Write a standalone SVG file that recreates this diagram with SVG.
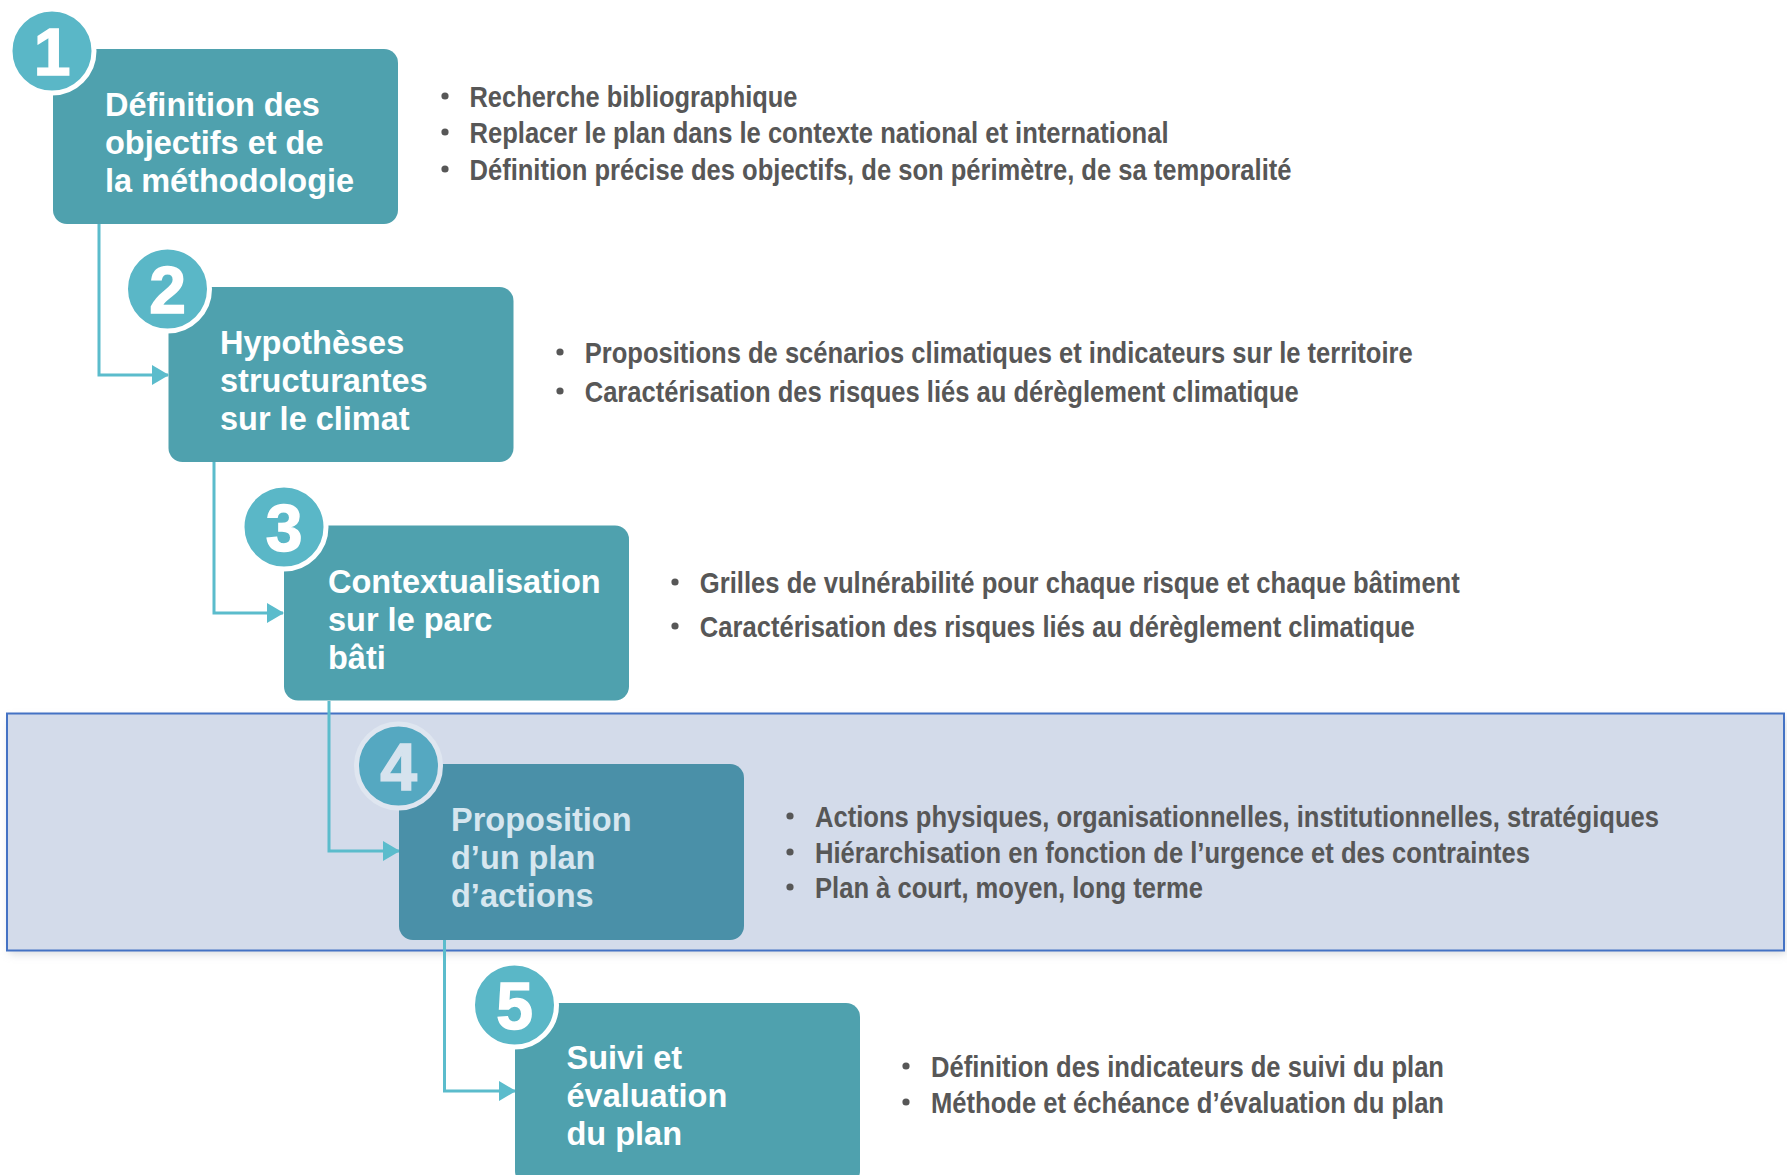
<svg xmlns="http://www.w3.org/2000/svg" width="1787" height="1175" viewBox="0 0 1787 1175">
<defs>
<style>
.box{fill:#4fa1ae}
.box4{fill:#4a90a8}
.circ{fill:#5ab7c7;stroke:#ffffff;stroke-width:5}
.circ4{fill:#55a8c1;stroke:#dfe6f0;stroke-width:5}
.num{font-family:"Liberation Sans",Arial,sans-serif;font-weight:bold;font-size:66px;fill:#ffffff;stroke:#ffffff;stroke-width:1.5;text-anchor:middle}
.num4{fill:#d6e3ee;stroke:#d6e3ee}
.title{font-family:"Liberation Sans",Arial,sans-serif;font-weight:bold;font-size:32.5px;fill:#ffffff}
.title4{fill:#d6e6ef}
.bul{font-family:"Liberation Sans Narrow","Liberation Sans",Arial,sans-serif;font-weight:bold;font-size:30px;fill:#575757}
.dot{fill:#575757}
.conn{fill:none;stroke:#5bbccc;stroke-width:3}
</style>
<marker id="arr" viewBox="0 0 17 20" refX="16" refY="10" markerWidth="17" markerHeight="20" orient="auto" markerUnits="userSpaceOnUse">
<path d="M0,0 L17,10 L0,20 z" fill="#5bbccc"/>
</marker>
<filter id="sh" x="-5%" y="-20%" width="110%" height="150%">
<feGaussianBlur stdDeviation="4"/>
</filter>
</defs>
<rect width="1787" height="1175" fill="#ffffff"/>

<g id="highlight">
<rect x="9" y="718" width="1777" height="236" fill="#bfc3c9" filter="url(#sh)" opacity="0.6"/>
<rect x="7" y="713.5" width="1777" height="237" fill="#d3dbea" stroke="#4472c4" stroke-width="2"/>
</g>

<g id="connectors">
<path class="conn" d="M99,224 V375 H168" marker-end="url(#arr)"/>
<path class="conn" d="M214,462 V613 H283" marker-end="url(#arr)"/>
<path class="conn" d="M329,701 V851 H399" marker-end="url(#arr)"/>
<path class="conn" d="M444.5,940 V1091 H515" marker-end="url(#arr)"/>
</g>

<g id="step1">
<rect class="box" x="53" y="49" width="345" height="175" rx="14"/>
<circle class="circ" cx="52" cy="51" r="42"/>
<text class="num" x="52" y="74.5">1</text>
<text class="title" x="105" y="116">Définition des</text>
<text class="title" x="105" y="154">objectifs et de</text>
<text class="title" x="105" y="192">la méthodologie</text>
<circle class="dot" cx="445" cy="96" r="3.6"/>
<text class="bul" x="469.5" y="106.5" textLength="328" lengthAdjust="spacingAndGlyphs">Recherche bibliographique</text>
<circle class="dot" cx="445" cy="132" r="3.6"/>
<text class="bul" x="469.5" y="142.5" textLength="699" lengthAdjust="spacingAndGlyphs">Replacer le plan dans le contexte national et international</text>
<circle class="dot" cx="445" cy="169" r="3.6"/>
<text class="bul" x="469.5" y="179.5" textLength="822" lengthAdjust="spacingAndGlyphs">Définition précise des objectifs, de son périmètre, de sa temporalité</text>
</g>

<g id="step2">
<rect class="box" x="168.5" y="287" width="345" height="175" rx="14"/>
<circle class="circ" cx="167.5" cy="289" r="42"/>
<text class="num" x="167.5" y="312.5">2</text>
<text class="title" x="220" y="354">Hypothèses</text>
<text class="title" x="220" y="392">structurantes</text>
<text class="title" x="220" y="430">sur le climat</text>
<circle class="dot" cx="560" cy="352" r="3.6"/>
<text class="bul" x="584.7" y="362.5" textLength="828" lengthAdjust="spacingAndGlyphs">Propositions de scénarios climatiques et indicateurs sur le territoire</text>
<circle class="dot" cx="560" cy="391" r="3.6"/>
<text class="bul" x="584.7" y="401.5" textLength="714" lengthAdjust="spacingAndGlyphs">Caractérisation des risques liés au dérèglement climatique</text>
</g>

<g id="step3">
<rect class="box" x="284" y="525.5" width="345" height="175" rx="14"/>
<circle class="circ" cx="284" cy="527" r="42"/>
<text class="num" x="284" y="550.5">3</text>
<text class="title" x="328" y="593">Contextualisation</text>
<text class="title" x="328" y="631">sur le parc</text>
<text class="title" x="328" y="669">bâti</text>
<circle class="dot" cx="675" cy="582" r="3.6"/>
<text class="bul" x="699.8" y="592.5" textLength="760" lengthAdjust="spacingAndGlyphs">Grilles de vulnérabilité pour chaque risque et chaque bâtiment</text>
<circle class="dot" cx="675" cy="626" r="3.6"/>
<text class="bul" x="699.8" y="636.5" textLength="715" lengthAdjust="spacingAndGlyphs">Caractérisation des risques liés au dérèglement climatique</text>
</g>

<g id="step4">
<rect class="box4" x="399" y="764" width="345" height="176" rx="14"/>
<circle class="circ4" cx="398.5" cy="766" r="42"/>
<text class="num num4" x="398.5" y="789.5">4</text>
<text class="title title4" x="451" y="831">Proposition</text>
<text class="title title4" x="451" y="869">d’un plan</text>
<text class="title title4" x="451" y="907">d’actions</text>
<circle class="dot" cx="790" cy="816" r="3.6"/>
<text class="bul" x="815" y="826.5" textLength="844" lengthAdjust="spacingAndGlyphs">Actions physiques, organisationnelles, institutionnelles, stratégiques</text>
<circle class="dot" cx="790" cy="852" r="3.6"/>
<text class="bul" x="815" y="862.5" textLength="715" lengthAdjust="spacingAndGlyphs">Hiérarchisation en fonction de l’urgence et des contraintes</text>
<circle class="dot" cx="790" cy="887" r="3.6"/>
<text class="bul" x="815" y="897.5" textLength="388" lengthAdjust="spacingAndGlyphs">Plan à court, moyen, long terme</text>
</g>

<g id="step5">
<rect class="box" x="515" y="1003" width="345" height="182" rx="14"/>
<circle class="circ" cx="514.5" cy="1005" r="42"/>
<text class="num" x="514.5" y="1028.5">5</text>
<text class="title" x="566.5" y="1069">Suivi et</text>
<text class="title" x="566.5" y="1107">évaluation</text>
<text class="title" x="566.5" y="1145">du plan</text>
<circle class="dot" cx="906" cy="1066" r="3.6"/>
<text class="bul" x="931" y="1076.5" textLength="513" lengthAdjust="spacingAndGlyphs">Définition des indicateurs de suivi du plan</text>
<circle class="dot" cx="906" cy="1102" r="3.6"/>
<text class="bul" x="931" y="1112.5" textLength="513" lengthAdjust="spacingAndGlyphs">Méthode et échéance d’évaluation du plan</text>
</g>
</svg>
